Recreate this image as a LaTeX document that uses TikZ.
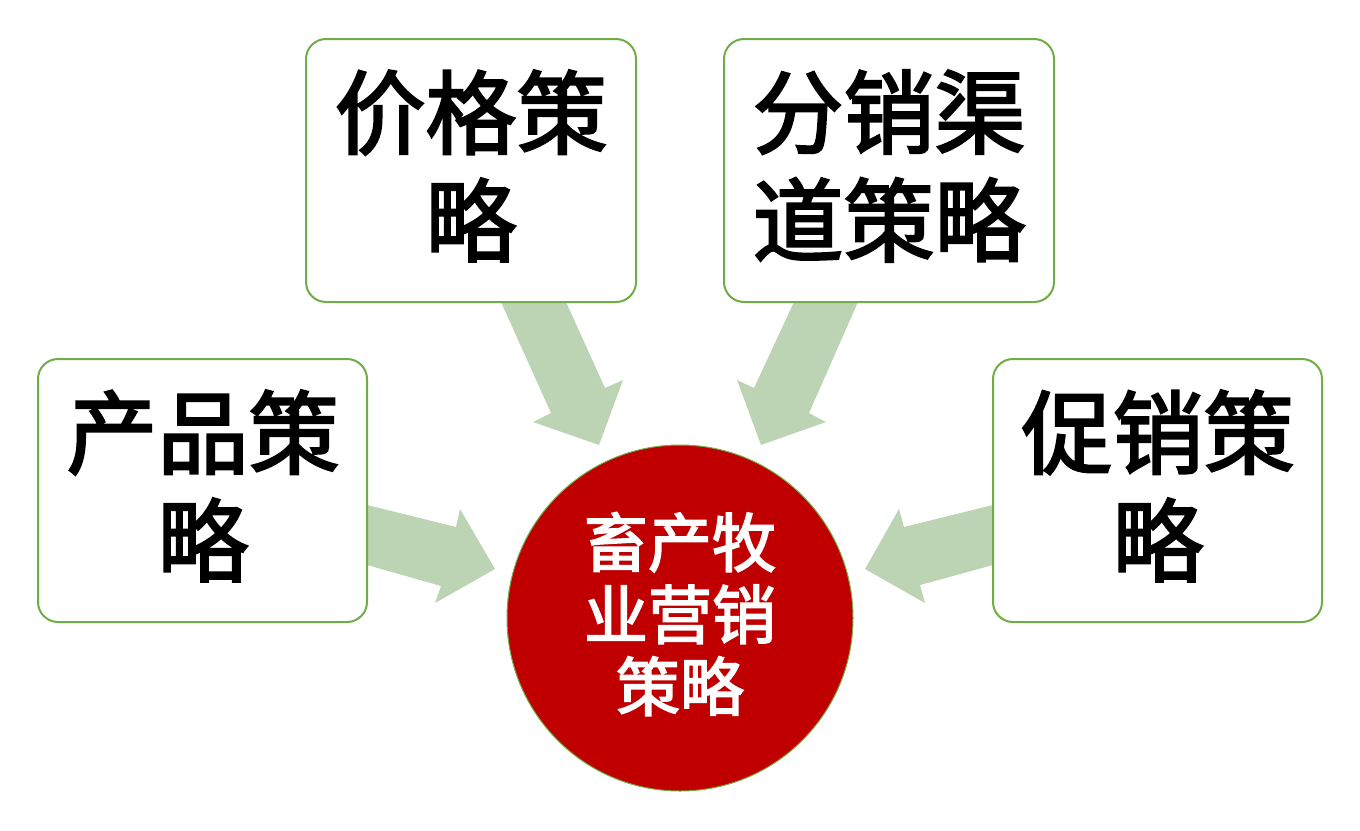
\documentclass[tikz,border=0pt]{standalone}
\usepackage{fontspec}
\newfontfamily\cjk[FakeBold=2.5]{Noto Sans CJK SC}
\definecolor{boxline}{HTML}{70AD47}
\definecolor{arrowfill}{HTML}{BCD4B4}
\definecolor{core}{HTML}{C00000}
\tikzset{
  stratbox/.style={draw=boxline, line width=2pt, fill=white, rounded corners=20pt},
  blockarrow/.style={fill=arrowfill, draw=none},
  bigtext/.style={font=\cjk\fontsize{91}{108}\selectfont, align=center, text=black, inner sep=0pt},
  coretext/.style={font=\cjk\fontsize{64}{72}\selectfont, align=center, text=white, inner sep=0pt}
}
\begin{document}
\begin{tikzpicture}[x=1pt,y=-1pt]
\useasboundingbox (0,0) rectangle (1360,830);
% arrows
\fill[blockarrow] (501,302) -- (566,302) -- (605,388) -- (623,380) -- (599,445) -- (533,422) -- (551,413) -- cycle;
\fill[blockarrow] (794,302) -- (858,302) -- (809,413) -- (826,422) -- (761,445) -- (737,380) -- (754,388) -- cycle;
\fill[blockarrow] (367,505) -- (456,527) -- (460,509) -- (495,569) -- (435,603) -- (441,586) -- (367,565) -- cycle;
\fill[blockarrow] (993,505) -- (904,527) -- (899,509) -- (865,569) -- (925,603) -- (920,585) -- (993,565) -- cycle;
% boxes
\draw[stratbox] (306,39) rectangle (636,302);
\draw[stratbox] (724,39) rectangle (1054,302);
\draw[stratbox] (38,359) rectangle (367,622);
\draw[stratbox] (993,359) rectangle (1322,622);
\node[bigtext] (price) at (471,166) {价格策\\略};
\node[bigtext] (place) at (889,166) {分销渠\\道策略};
\node[bigtext] (product) at (203,486) {产品策\\略};
\node[bigtext] (promo) at (1158,486) {促销策\\略};
% core circle
\node[circle, fill=core, draw=boxline, line width=1pt, minimum size=346pt, inner sep=0pt] (core) at (680,618) {};
\node[coretext] (coret) at (680,614) {畜产牧\\业营销\\策略};
\end{tikzpicture}
\end{document}
